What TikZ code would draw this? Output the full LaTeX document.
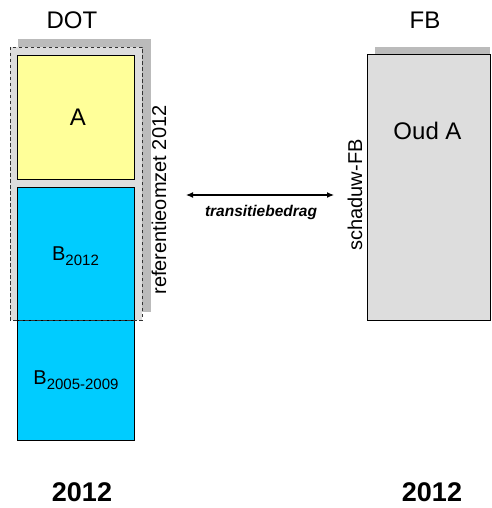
\documentclass[tikz,border=0pt]{standalone}
\usepackage{fontspec}
\setmainfont{Liberation Sans}
\usetikzlibrary{arrows.meta}
\definecolor{shadowgray}{HTML}{BBBBBB}
\definecolor{lightgray2}{HTML}{DDDDDD}
\definecolor{yel}{HTML}{FFFF99}
\definecolor{cyanb}{HTML}{00CCFF}
\newcommand{\bsub}[1]{\raisebox{-5pt}{\fontsize{15}{18}\selectfont #1}}
\begin{document}
\begin{tikzpicture}[x=1pt,y=-1pt,
  box/.style={draw=black,line width=0.8pt,inner sep=0pt},
  lbl/.style={font=\fontsize{24}{28}\selectfont,inner sep=0pt},
  blbl/.style={font=\fontsize{20}{24}\selectfont,inner sep=0pt},
  rot/.style={font=\fontsize{20}{24}\selectfont,rotate=90,inner sep=0pt}]
\useasboundingbox (0,0) rectangle (491,508);
% left shadow + dashed frame
\fill[shadowgray] (18,39) rectangle (151,312);
\fill[lightgray2] (10,47) rectangle (142,320);
% boxes
\node[box,fill=yel,minimum width=117pt,minimum height=124pt,anchor=north west] (A) at (17,55) {};
\node[lbl] at (78,117) {A};
\node[box,fill=cyanb,minimum width=117pt,minimum height=133pt,anchor=north west] (B1) at (17,187) {};
\node[box,fill=cyanb,minimum width=117pt,minimum height=120pt,anchor=north west] (B2) at (17,320) {};
\node[blbl] at (75.5,256) {B\bsub{2012}};
\node[blbl] at (76,380) {B\bsub{2005-2009}};
\draw[line width=0.9pt,dash pattern=on 3.5pt off 2.5pt,draw=black!80] (10,47) rectangle (142,320);
\node[rot] (ref) at (159,200) {referentieomzet 2012};
% right
\fill[shadowgray] (375,47) rectangle (490,54);
\node[box,fill=lightgray2,minimum width=123pt,minimum height=266pt,anchor=north west] (FB) at (367,54) {};
\node[lbl] at (427.5,131) {Oud A};
\node[rot] (sch) at (355,195) {schaduw-FB};
% arrow
\coordinate (l) at (186,195);
\coordinate (r) at (334,195);
\draw[{Latex[length=7pt,width=6pt]}-{Latex[length=7pt,width=6pt]},line width=1.2pt] (l) -- (r);
\node[font=\fontsize{15.5}{18}\selectfont\bfseries\itshape] (t) at (261,212) {transitiebedrag};
% titles
\node[lbl] (dot) at (72,20.5) {DOT};
\node[lbl] (fb) at (425,20.5) {FB};
\node[inner sep=0pt,font=\fontsize{27}{32}\selectfont\bfseries] (y1) at (82,492) {2012};
\node[inner sep=0pt,font=\fontsize{27}{32}\selectfont\bfseries] (y2) at (432,492) {2012};
\end{tikzpicture}
\end{document}
